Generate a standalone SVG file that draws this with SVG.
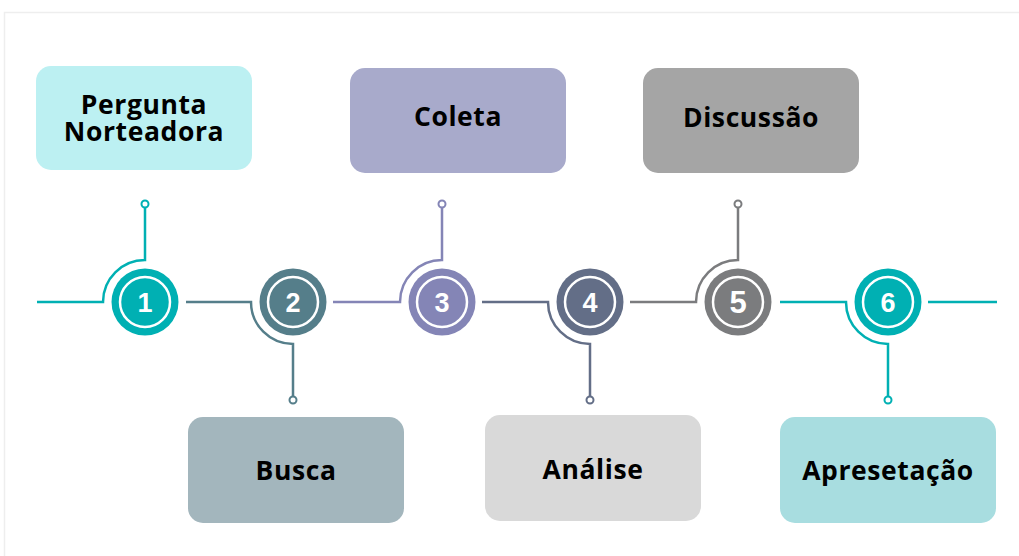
<svg xmlns="http://www.w3.org/2000/svg" width="1019" height="556" viewBox="0 0 1019 556">
<style>
.box text{font-family:"Open Sans","Liberation Sans",sans-serif;font-weight:700;font-size:26.5px;letter-spacing:0.6px;fill:#000;text-anchor:middle}
.num{font-family:"Liberation Sans",Arial,sans-serif;font-weight:700;font-size:27px;fill:#fff;text-anchor:middle}
.ln{fill:none;stroke-width:2.5}
.dot{fill:#fff;stroke-width:2}
.ring{fill:none;stroke:#fff;stroke-width:2.5}
</style>
<rect x="0" y="0" width="1019" height="556" fill="#fff"/>
<path d="M4.5 556 V12.5 H1019" fill="none" stroke="#eeeeee" stroke-width="1.5"/>
<g id="connectors">
<path class="ln" stroke="#00b0b3" d="M37 302 H103 A42 42 0 0 1 145 260 V208"/>
<circle class="dot" stroke="#00b0b3" cx="145" cy="204" r="3.5"/>
<path class="ln" stroke="#557e8a" d="M186 302 H251 A42 42 0 0 0 293 344 V396"/>
<circle class="dot" stroke="#557e8a" cx="293" cy="400" r="3.5"/>
<path class="ln" stroke="#8485b6" d="M333 302 H400 A42 42 0 0 1 442 260 V208"/>
<circle class="dot" stroke="#8485b6" cx="442" cy="204" r="3.5"/>
<path class="ln" stroke="#636e87" d="M482 302 H548 A42 42 0 0 0 590 344 V396"/>
<circle class="dot" stroke="#636e87" cx="590" cy="400" r="3.5"/>
<path class="ln" stroke="#7b7c7e" d="M630 302 H696 A42 42 0 0 1 738 260 V208"/>
<circle class="dot" stroke="#7b7c7e" cx="738" cy="204" r="3.5"/>
<path class="ln" stroke="#00b0b3" d="M780 302 H846 A42 42 0 0 0 888 344 V396"/>
<circle class="dot" stroke="#00b0b3" cx="888" cy="400" r="3.5"/>
<path class="ln" stroke="#00b0b3" d="M928 302 H997"/>
</g>
<g id="step1">
<circle cx="145" cy="302" r="33.5" fill="#00b0b3"/><circle class="ring" cx="145" cy="302" r="25"/>
<text class="num" x="145" y="312">1</text>
</g>
<g id="step2">
<circle cx="293" cy="302" r="33.5" fill="#557e8a"/><circle class="ring" cx="293" cy="302" r="25"/>
<text class="num" x="293" y="312">2</text>
</g>
<g id="step3">
<circle cx="442" cy="302" r="33.5" fill="#8485b6"/><circle class="ring" cx="442" cy="302" r="25"/>
<text class="num" x="442" y="312">3</text>
</g>
<g id="step4">
<circle cx="590" cy="302" r="33.5" fill="#636e87"/><circle class="ring" cx="590" cy="302" r="25"/>
<text class="num" x="590" y="312">4</text>
</g>
<g id="step5">
<circle cx="738" cy="302" r="33.5" fill="#7b7c7e"/><circle class="ring" cx="738" cy="302" r="25"/>
<text class="num" x="738" y="313" style="font-size:31px">5</text>
</g>
<g id="step6">
<circle cx="888" cy="302" r="33.5" fill="#00b0b3"/><circle class="ring" cx="888" cy="302" r="25"/>
<text class="num" x="888" y="312">6</text>
</g>
<g id="box1" class="box">
<rect x="36" y="66" width="216" height="104" rx="15" fill="#bcf0f2"/>
<text x="144" y="114">Pergunta</text><text x="144" y="141">Norteadora</text>
</g>
<g id="box2" class="box">
<rect x="188" y="417" width="216" height="106" rx="15" fill="#a3b6bd"/>
<text x="296" y="480">Busca</text>
</g>
<g id="box3" class="box">
<rect x="350" y="68" width="216" height="105" rx="15" fill="#a8aacb"/>
<text x="458" y="126">Coleta</text>
</g>
<g id="box4" class="box">
<rect x="485" y="415" width="216" height="106" rx="15" fill="#d9d9d9"/>
<text x="593" y="479">Análise</text>
</g>
<g id="box5" class="box">
<rect x="643" y="68" width="216" height="105" rx="15" fill="#a5a5a5"/>
<text x="751" y="127">Discussão</text>
</g>
<g id="box6" class="box">
<rect x="780" y="417" width="216" height="106" rx="15" fill="#a8dde0"/>
<text x="888" y="480">Apresetação</text>
</g>
</svg>
